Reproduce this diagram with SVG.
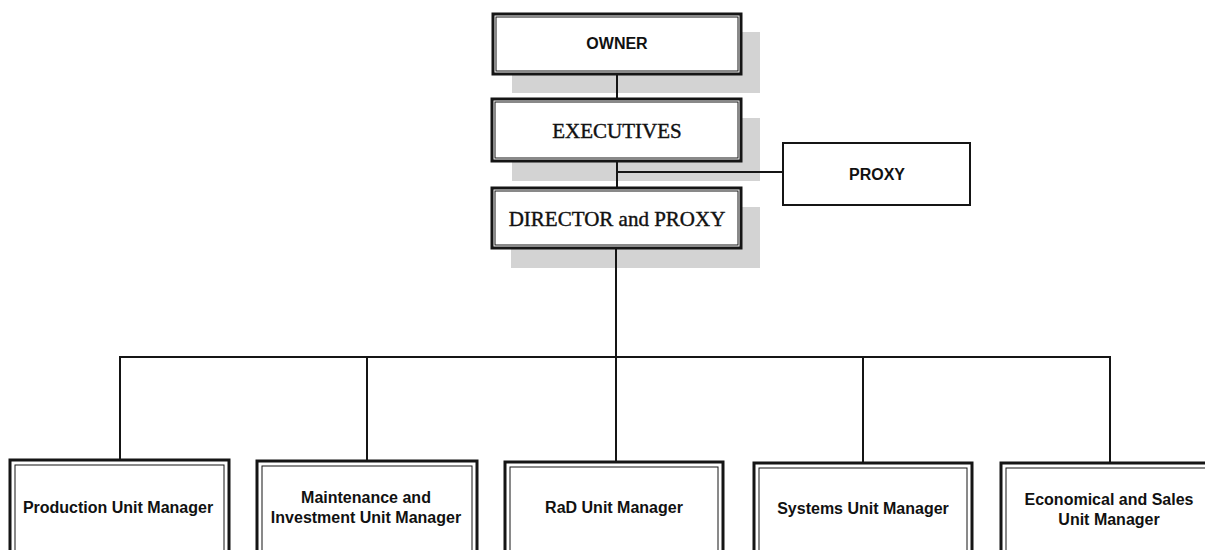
<svg xmlns="http://www.w3.org/2000/svg" width="1205" height="550" viewBox="0 0 1205 550">
<style>
.bg{fill:#ffffff}
.shadow{fill:#d3d3d3}
.outer{fill:#ffffff;stroke:#151515;stroke-width:3}
.inner{fill:none;stroke:#151515;stroke-width:1}
.thin{fill:#ffffff;stroke:#151515;stroke-width:2}
.conn{fill:none;stroke:#151515;stroke-width:2}
.sans{font-family:"Liberation Sans",Arial,sans-serif;font-weight:bold;font-size:16px;fill:#111;text-anchor:middle}
.serif{font-family:"Liberation Serif","Times New Roman",serif;font-size:21px;fill:#111;stroke:#111;stroke-width:0.4;text-anchor:middle}
</style>
<rect class="bg" x="0" y="0" width="1205" height="550"/>

<g id="owner">
<rect class="shadow" x="512" y="32" width="248" height="61"/>
<rect class="outer" x="493" y="14" width="248" height="60"/>
<rect class="inner" x="496" y="17" width="242" height="54"/>
<text class="sans" x="617" y="49" font-size="17">OWNER</text>
</g>

<g id="executives">
<rect class="shadow" x="512" y="118" width="248" height="63"/>
<rect class="outer" x="492" y="99" width="249" height="62"/>
<rect class="inner" x="495" y="102" width="243" height="56"/>
<text class="serif" x="617" y="138">EXECUTIVES</text>
</g>

<g id="director">
<rect class="shadow" x="511" y="207" width="249" height="61"/>
<rect class="outer" x="492" y="188" width="249" height="60"/>
<rect class="inner" x="495" y="191" width="243" height="54"/>
<text class="serif" x="617" y="226" font-size="22">DIRECTOR and PROXY</text>
</g>

<g id="proxy">
<rect class="thin" x="783" y="143" width="187" height="62"/>
<text class="sans" x="877" y="180">PROXY</text>
</g>

<g id="production">
<rect class="outer" x="10" y="460" width="219" height="100"/>
<rect class="inner" x="15" y="465" width="209" height="95"/>
<text class="sans" x="118" y="513">Production Unit Manager</text>
</g>

<g id="maintenance">
<rect class="outer" x="257" y="461" width="220" height="100"/>
<rect class="inner" x="262" y="466" width="210" height="95"/>
<text class="sans" x="366" y="503">Maintenance and</text>
<text class="sans" x="366" y="523">Investment Unit Manager</text>
</g>

<g id="rad">
<rect class="outer" x="505" y="462" width="218" height="100"/>
<rect class="inner" x="510" y="467" width="208" height="95"/>
<text class="sans" x="614" y="513">RaD Unit Manager</text>
</g>

<g id="systems">
<rect class="outer" x="754" y="463" width="218" height="100"/>
<rect class="inner" x="759" y="468" width="208" height="95"/>
<text class="sans" x="863" y="514">Systems Unit Manager</text>
</g>

<g id="economical">
<rect class="outer" x="1001" y="463" width="220" height="100"/>
<rect class="inner" x="1006" y="468" width="210" height="95"/>
<text class="sans" x="1109" y="505">Economical and Sales</text>
<text class="sans" x="1109" y="525">Unit Manager</text>
</g>

<g id="connectors">
<line class="conn" x1="617" y1="75" x2="617" y2="99"/>
<line class="conn" x1="617" y1="161" x2="617" y2="188"/>
<line class="conn" x1="617" y1="172" x2="783" y2="172"/>
<line class="conn" x1="616" y1="248" x2="616" y2="357"/>
<polyline class="conn" points="120,460 120,357 1110,357 1110,463"/>
<line class="conn" x1="367" y1="357" x2="367" y2="461"/>
<line class="conn" x1="616" y1="357" x2="616" y2="462"/>
<line class="conn" x1="863" y1="357" x2="863" y2="463"/>
</g>
</svg>
